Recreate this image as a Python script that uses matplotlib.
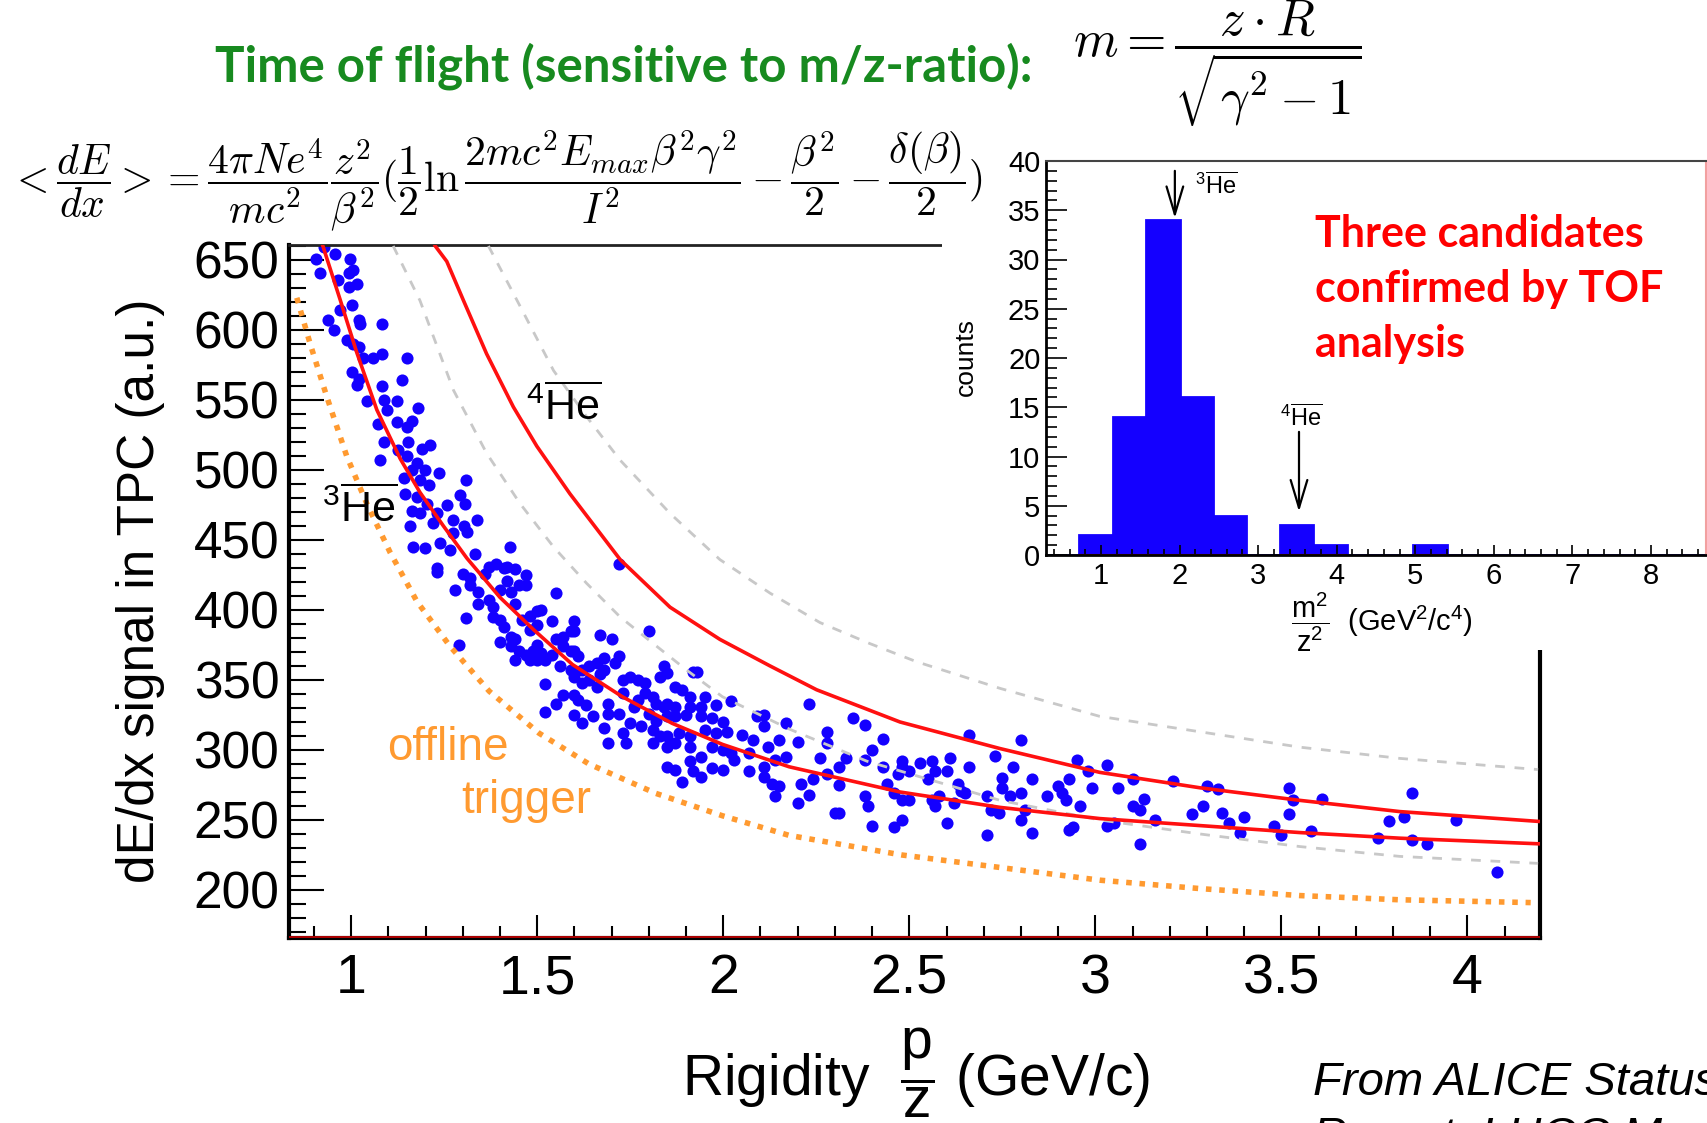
import matplotlib
matplotlib.use("Agg")
import matplotlib.pyplot as plt
import numpy as np
from matplotlib.patches import Rectangle
from matplotlib.ticker import MultipleLocator, FuncFormatter

plt.rcParams['font.family'] = ['Liberation Sans', 'DejaVu Sans']
plt.rcParams['mathtext.fontset'] = 'custom'
plt.rcParams['mathtext.rm'] = 'Liberation Sans'
plt.rcParams['mathtext.sf'] = 'Liberation Sans'
plt.rcParams['mathtext.it'] = 'Liberation Sans:italic'
plt.rcParams['mathtext.bf'] = 'Liberation Sans:bold'

# ---- main panel: dE/dx vs rigidity ----
# expected 3He and 4He lines
he3_x = [0.924, 0.97, 1.015, 1.069, 1.132, 1.185, 1.248, 1.311, 1.40, 1.49, 1.595, 1.729,
         1.863, 1.998, 2.177, 2.475, 2.744, 3.012, 3.281, 3.55, 3.818, 4.19]
he3_y = [660, 622, 584, 543, 508, 484, 460, 437, 409, 386, 361, 338,
         319, 304, 288, 270, 259, 251, 246, 241, 237, 233]
he4_x = [1.226, 1.257, 1.302, 1.364, 1.436, 1.499, 1.588, 1.723, 1.857, 1.991, 2.126, 2.251,
         2.475, 2.744, 3.012, 3.281, 3.55, 3.818, 4.19]
he4_y = [660, 649, 621, 583, 545, 517, 483, 436, 402, 379, 360, 343,
         320, 301, 284, 273, 264, 256, 249]
# grey dashed band
band_lo_x = [1.113, 1.185, 1.275, 1.364, 1.454, 1.544, 1.633, 1.723, 1.812, 1.902, 1.998,
             2.177, 2.386, 2.744, 3.012, 3.281, 3.55, 3.818, 4.19]
band_lo_y = [660, 621, 557, 512, 476, 445, 419, 395, 376, 357, 338,
             315, 292, 264, 250, 240, 231, 224, 219]
band_hi_x = [1.369, 1.454, 1.544, 1.633, 1.723, 1.857, 1.991, 2.126, 2.26, 2.394, 2.52,
             2.744, 3.012, 3.281, 3.55, 3.818, 4.19]
band_hi_y = [660, 617, 571, 538, 507, 469, 436, 412, 391, 376, 363,
             344, 324, 313, 302, 294, 286]
# offline trigger threshold
trig_x = [0.854, 0.89, 0.935, 0.988, 1.042, 1.105, 1.177, 1.266, 1.371, 1.505, 1.639, 1.819,
          1.998, 2.177, 2.48, 3.012, 3.281, 3.55, 3.818, 4.17]
trig_y = [623, 590, 552, 510, 476, 441, 406, 374, 342, 312, 290, 269,
          253, 239, 225, 207, 201, 196, 193, 191]

# candidate tracks (rigidity, dE/dx)
tracks = np.array([
    (0.906, 651), (0.917, 641), (0.927, 659), (0.957, 654), (0.997, 651), (0.993, 641),
    (1.006, 643), (0.966, 636), (1.015, 633), (0.993, 631), (1.002, 618), (0.970, 614),
    (0.939, 607), (1.020, 607), (1.024, 604), (1.082, 604), (0.953, 600), (0.988, 593),
    (1.006, 590), (1.020, 588), (1.033, 580), (1.060, 580), (1.082, 583), (1.149, 580),
    (1.002, 570), (1.020, 565), (1.015, 561), (1.042, 549), (1.082, 560), (1.136, 564),
    (1.087, 550), (1.123, 549), (1.096, 543), (1.181, 544), (1.073, 533), (1.123, 534),
    (1.163, 535), (1.149, 531), (1.087, 520), (1.154, 520), (1.190, 515), (1.212, 518),
    (1.127, 514), (1.149, 510), (1.078, 507), (1.176, 505), (1.163, 500), (1.199, 500),
    (1.235, 498), (1.141, 494), (1.185, 493), (1.208, 489), (1.309, 493), (1.145, 483),
    (1.176, 481), (1.203, 476), (1.257, 475), (1.293, 482), (1.306, 476), (1.163, 471),
    (1.185, 469), (1.230, 469), (1.275, 464), (1.338, 464), (1.221, 462), (1.302, 460),
    (1.158, 460), (1.275, 455), (1.311, 456), (1.167, 445), (1.199, 444), (1.239, 448),
    (1.266, 443), (1.427, 445), (1.333, 440),
    (1.23, 430), (1.23, 427), (1.28, 414), (1.30, 426), (1.32, 423), (1.32, 418), (1.34, 413),
    (1.36, 426), (1.37, 431), (1.39, 433), (1.41, 430), (1.42, 431), (1.44, 429), (1.42, 421),
    (1.40, 414), (1.43, 413), (1.47, 425), (1.47, 418), (1.45, 418), (1.34, 404), (1.37, 407),
    (1.38, 402), (1.31, 394), (1.38, 395), (1.40, 393), (1.41, 388), (1.44, 404), (1.46, 393),
    (1.48, 396), (1.50, 399), (1.51, 400), (1.54, 392), (1.50, 389), (1.48, 386), (1.55, 412),
    (1.72, 433), (1.29, 375), (1.40, 377), (1.43, 381), (1.44, 379), (1.43, 374), (1.45, 371),
    (1.47, 368), (1.49, 371), (1.50, 375), (1.51, 369), (1.50, 364), (1.48, 364), (1.44, 364),
    (1.52, 364), (1.54, 368), (1.55, 379), (1.57, 381), (1.59, 385), (1.60, 392), (1.60, 385),
    (1.57, 374), (1.59, 371), (1.60, 371), (1.61, 367), (1.56, 360), (1.59, 357), (1.60, 352),
    (1.62, 357), (1.64, 360), (1.66, 362), (1.68, 366), (1.67, 382), (1.70, 379), (1.80, 385),
    (1.72, 367), (1.71, 362), (1.68, 357), (1.67, 354), (1.64, 350), (1.62, 348), (1.66, 345),
    (1.52, 347), (1.57, 339), (1.60, 339), (1.61, 336), (1.63, 332), (1.55, 333), (1.52, 327),
    (1.60, 325), (1.62, 319), (1.65, 324), (1.68, 316), (1.69, 333), (1.69, 326), (1.72, 326),
    (1.69, 305), (1.73, 312), (1.74, 305), (1.75, 319), (1.76, 331), (1.77, 336), (1.79, 341),
    (1.81, 338), (1.73, 341), (1.73, 350), (1.75, 352), (1.77, 350), (1.79, 348), (1.83, 352),
    (1.84, 360), (1.85, 355), (1.87, 345), (1.89, 343), (1.91, 338), (1.92, 356), (1.93, 356),
    (1.95, 338), (1.98, 332), (2.02, 335), (1.82, 333), (1.84, 331), (1.85, 333), (1.87, 331),
    (1.91, 331), (1.94, 331), (1.80, 326), (1.82, 321), (1.85, 324), (1.87, 324), (1.90, 325),
    (1.94, 324), (1.97, 323), (2.00, 320), (1.78, 317), (1.81, 314), (1.83, 310), (1.85, 310),
    (1.88, 312), (1.91, 310), (1.95, 314), (1.98, 312), (2.01, 313), (1.81, 305), (1.85, 302),
    (1.87, 305), (1.91, 302), (1.94, 295), (1.97, 302), (2.00, 300), (2.02, 298), (1.85, 288),
    (1.87, 286), (1.91, 292), (1.92, 285), (1.89, 277), (1.94, 281), (1.97, 287), (2.00, 286),
    (2.03, 293), (2.05, 311), (2.08, 307), (2.07, 298), (2.07, 285), (2.09, 324), (2.11, 325),
    (2.11, 317), (2.12, 302), (2.11, 288), (2.11, 281), (2.13, 276), (2.15, 274), (2.14, 267),
    (2.15, 307), (2.17, 319), (2.17, 295), (2.14, 293),
    (2.23, 333), (2.20, 306), (2.28, 313), (2.28, 305), (2.35, 323), (2.38, 318), (2.43, 308),
    (2.40, 300), (2.38, 293), (2.33, 294), (2.31, 288), (2.28, 283), (2.26, 294), (2.24, 279),
    (2.23, 268), (2.20, 262), (2.21, 276), (2.31, 275), (2.30, 255), (2.31, 255), (2.38, 267),
    (2.39, 260), (2.40, 246), (2.43, 288), (2.44, 276), (2.47, 283), (2.48, 292), (2.48, 288),
    (2.50, 285), (2.46, 269), (2.48, 264), (2.50, 264), (2.46, 245), (2.48, 250), (2.53, 291),
    (2.55, 279), (2.56, 292), (2.57, 285), (2.58, 267), (2.57, 260), (2.56, 264), (2.60, 285),
    (2.61, 294), (2.63, 276), (2.64, 271), (2.65, 269), (2.66, 288), (2.66, 311), (2.60, 248),
    (2.62, 262), (2.71, 267), (2.72, 257), (2.73, 296), (2.75, 280), (2.78, 288), (2.80, 307),
    (2.75, 273), (2.77, 267), (2.80, 269), (2.83, 279), (2.81, 257), (2.74, 255), (2.80, 250),
    (2.87, 267), (2.90, 274), (2.91, 269), (2.93, 279), (2.92, 264), (2.95, 293), (2.98, 285),
    (2.99, 273), (2.96, 260), (2.94, 245), (2.71, 239), (2.83, 241), (2.93, 243),
    (3.03, 289), (3.06, 273), (3.03, 246), (3.05, 248), (3.10, 279), (3.10, 260), (3.12, 257),
    (3.13, 265), (3.12, 233), (3.16, 250), (3.21, 278), (3.26, 254), (3.29, 260), (3.30, 274),
    (3.33, 272), (3.34, 255), (3.36, 248), (3.39, 241), (3.40, 252), (3.48, 246), (3.50, 239),
    (3.52, 273), (3.53, 264), (3.52, 254), (3.58, 242), (3.61, 265), (3.76, 237), (3.79, 249),
    (3.83, 252), (3.85, 236), (3.85, 269), (3.89, 233), (3.97, 250), (4.08, 213),
])

# ---- inset: TOF mass^2/z^2 histogram ----
m2_edges = np.arange(0.3, 8.80001, 0.425)
m2_counts = [0, 2, 14, 34, 16, 4, 0, 3, 1, 0, 0, 1, 0, 0, 0, 0, 0, 0, 0, 0]
arrow_he3 = (1.94, 39.0, 34.2)   # x, from, to
arrow_he4 = (3.52, 12.5, 4.4)

BLUE = '#1400ff'
W, H = 1708, 1123
fig = plt.figure(figsize=(W / 100, H / 100), dpi=100)


def fx(px):
    return px / W


def fy(py):
    return 1 - py / H


ax = fig.add_axes([fx(289), fy(938), (1540 - 289) / W, (938 - 245) / H])
ax.scatter(tracks[:, 0], tracks[:, 1], s=76, color=BLUE, linewidths=0, zorder=2)
ax.plot(band_lo_x, band_lo_y, color='#c8c8c8', lw=2.0, ls=(0, (3.5, 3.5)), zorder=3)
ax.plot(band_hi_x, band_hi_y, color='#c8c8c8', lw=2.0, ls=(0, (3.5, 3.5)), zorder=3)
ax.plot(trig_x, trig_y, color='#ff9a30', lw=4.0, ls=(0, (1.0, 1.4)), zorder=3)
ax.plot(he3_x, he3_y, color='#ff1010', lw=2.6, zorder=4)
ax.plot(he4_x, he4_y, color='#ff1010', lw=2.6, zorder=4)

ax.set_xlim(0.833, 4.195)
ax.set_ylim(165.7, 660.7)
ax.xaxis.set_major_locator(MultipleLocator(0.5))
ax.xaxis.set_minor_locator(MultipleLocator(0.1))
ax.yaxis.set_major_locator(MultipleLocator(50))
ax.yaxis.set_minor_locator(MultipleLocator(10))
ax.xaxis.set_major_formatter(FuncFormatter(lambda v, p: f'{v:g}'))
ax.tick_params(which='both', direction='in', top=False, right=False, width=1.5)
ax.tick_params(axis='y', which='major', length=25, labelsize=37, pad=7)
ax.tick_params(axis='y', which='minor', length=12.5)
ax.tick_params(axis='x', which='major', length=16.5, labelsize=40, pad=11)
ax.tick_params(axis='x', which='minor', length=8.6)
for side in ['left', 'bottom', 'right']:
    ax.spines[side].set_linewidth(3)
ax.spines['top'].set_linewidth(2)
ax.spines['top'].set_color('#222222')
ax.axhline(166.6, color='#cc0000', lw=1.2, zorder=5)

# white patch where the TOF inset sits over the main frame
fig.add_artist(Rectangle((fx(942), fy(650)), 1 - fx(942), 650 / H,
                         transform=fig.transFigure, facecolor='white',
                         edgecolor='none', zorder=1))

axi = fig.add_axes([fx(1046), fy(555), 660 / W, 394 / H], zorder=2)
axi.stairs(m2_counts, m2_edges, fill=True, color=BLUE)
axi.stairs(m2_counts, m2_edges, color=BLUE, lw=2)
filled = np.array(m2_counts) > 0
axi.hlines(np.full(filled.sum(), 0.05), m2_edges[:-1][filled], m2_edges[1:][filled],
           color='#cc0000', lw=1.5)
axi.set_xlim(0.3, 8.7)
axi.set_ylim(0, 40)
axi.xaxis.set_major_locator(MultipleLocator(1))
axi.xaxis.set_minor_locator(MultipleLocator(0.2))
axi.yaxis.set_major_locator(MultipleLocator(5))
axi.yaxis.set_minor_locator(MultipleLocator(1))
axi.tick_params(which='both', direction='in', top=False, right=False, width=1.2,
                labelsize=21)
axi.tick_params(axis='y', which='major', length=15, pad=4)
axi.tick_params(axis='y', which='minor', length=8)
axi.tick_params(axis='x', which='major', length=7.5, pad=5)
axi.tick_params(axis='x', which='minor', length=4.3)
axi.spines['left'].set_linewidth(2)
axi.spines['bottom'].set_linewidth(2)
axi.spines['top'].set_linewidth(1.5)
axi.spines['top'].set_color('#444444')
axi.spines['right'].set_linewidth(1.5)
axi.spines['right'].set_color('#f2a0a0')

for x0, y0, y1 in [arrow_he3, arrow_he4]:
    axi.annotate('', xy=(x0, y1), xytext=(x0, y0),
                 arrowprops=dict(arrowstyle='->,head_length=1.0,head_width=0.3',
                                 color='black', lw=1.6, mutation_scale=20,
                                 shrinkA=0, shrinkB=0))
axi.text(2.47, 37.4, r'$^{3}\overline{\mathrm{He}}$', fontsize=17, ha='center', va='center')
axi.text(3.55, 13.9, r'$^{4}\overline{\mathrm{He}}$', fontsize=17, ha='center', va='center')

# ---- labels and annotations ----
fig.text(fx(966), fy(357), 'counts', rotation=90, fontsize=19, ha='center', va='center')
fig.text(fx(1382), fy(622), r'$\dfrac{\mathrm{m}^2}{\mathrm{z}^2}$  (GeV$^2$/c$^4$)',
         fontsize=21, ha='center', va='center')
fig.text(fx(141), fy(591), 'dE/dx signal in TPC (a.u.)', rotation=90, fontsize=37,
         ha='center', va='center')
fig.text(fx(916), fy(1073), r'Rigidity  $\dfrac{\mathrm{p}}{\mathrm{z}}$ (GeV/c)',
         fontsize=41, ha='center', va='center')
fig.text(fx(360), fy(509), r'$^{3}\overline{\mathrm{He}}$', fontsize=31, ha='center', va='center')
fig.text(fx(564), fy(407), r'$^{4}\overline{\mathrm{He}}$', fontsize=31, ha='center', va='center')
fig.text(fx(387), fy(760), 'offline', fontsize=33, color='#ff9a30', va='baseline')
fig.text(fx(461), fy(813), 'trigger', fontsize=33, color='#ff9a30', va='baseline')

fig.text(fx(215), fy(82), 'Time of flight (sensitive to m/z-ratio):', family='Lato',
         fontweight='bold', fontsize=35.5, color='#178a1f', va='baseline')
fig.text(fx(1073), fy(63), r'$m = \dfrac{z \cdot R}{\sqrt{\gamma^2-1}}$',
         math_fontfamily='cm', fontsize=36.5, ha='left', va='center')
fig.text(fx(9), fy(181), r'$<\dfrac{dE}{dx}>=\dfrac{4\pi Ne^4}{mc^2}\dfrac{z^2}{\beta^2}'
         r'(\dfrac{1}{2}\ln\dfrac{2mc^2E_{max}\beta^2\gamma^2}{I^2}-\dfrac{\beta^2}{2}'
         r'-\dfrac{\delta(\beta)}{2})$',
         math_fontfamily='cm', fontsize=30, ha='left', va='center')

for i, line in enumerate(['Three candidates', 'confirmed by TOF', 'analysis']):
    fig.text(fx(1315), fy(247 + 55 * i), line, family='Lato', fontweight='bold',
             fontsize=31, color='#ff0000', va='baseline')

fig.text(fx(1313), fy(1095), 'From ALICE Status', fontstyle='italic', fontsize=34,
         va='baseline')
fig.text(fx(1313), fy(1150), 'Report, LHCC Meeting', fontstyle='italic', fontsize=34,
         va='baseline')

fig.savefig('out.png', dpi=100)
